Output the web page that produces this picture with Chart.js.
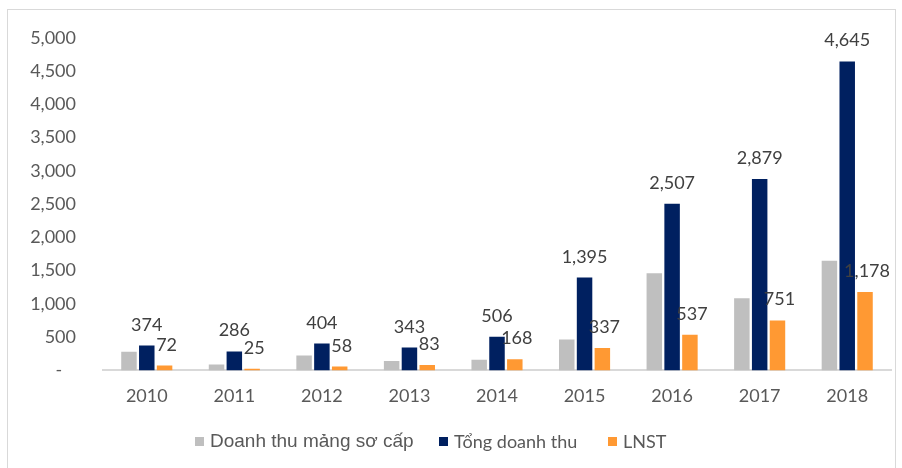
<!DOCTYPE html>
<html>
<head>
<meta charset="utf-8">
<script src="https://cdn.jsdelivr.net/npm/chart.js@4.4.1/dist/chart.umd.min.js"></script>
<style>
  body { margin: 0; background: #fff; }
  #wrap { position: relative; width: 902px; height: 468px; overflow: hidden; }
  #frame { position: absolute; left: 7px; top: 9px; width: 887px; height: 470px; border: 1px solid #d9d9d9; }
  #chart { position: absolute; left: 0; top: 0; }
  #legend { position: absolute; top: 429px; left: 0; width: 902px; height: 24px; }
  .item { position: absolute; top: 0; display: flex; align-items: center; height: 24px; color: #595959; }
  .box { width: 9px; height: 9px; margin-right: 6px; }
</style>
</head>
<body>
<div id="wrap">
  <div id="frame"></div>
  <canvas id="chart" width="902" height="468"></canvas>
  <div id="legend"></div>
</div>
<script>
const years = ["2010", "2011", "2012", "2013", "2014", "2015", "2016", "2017", "2018"];
const doanhThuSoCap = [280, 90, 225, 140, 160, 465, 1460, 1085, 1650];
const tongDoanhThu = [374, 286, 404, 343, 506, 1395, 2507, 2879, 4645];
const lnst = [72, 25, 58, 83, 168, 337, 537, 751, 1178];
const seriesNames = ["Doanh thu  mảng sơ cấp", "Tổng doanh thu", "LNST"];
const seriesColors = ["#bfbfbf", "#002060", "#ff9933"];
const yTicks = [0, 500, 1000, 1500, 2000, 2500, 3000, 3500, 4000, 4500, 5000];

const fmt = (v) => v.toLocaleString("en-US");

// value labels above the navy and orange bars
const valueLabels = {
    id: "valueLabels",
    afterDatasetsDraw(chart) {
        const ctx = chart.ctx;
        ctx.save();
        ctx.font = "18px Lato";
        ctx.fillStyle = "#404040";
        ctx.textAlign = "center";
        ctx.textBaseline = "alphabetic";
        [1, 2].forEach((di) => {
            const meta = chart.getDatasetMeta(di);
            meta.data.forEach((bar, i) => {
                ctx.fillText(fmt(chart.data.datasets[di].data[i]), bar.x + (di === 2 ? 2 : 0), bar.y - 15);
            });
        });
        ctx.restore();
    },
};

const createChart = () => {
    new Chart(document.getElementById("chart"), {
        type: "bar",
        plugins: [valueLabels],
        data: {
            labels: years,
            datasets: [doanhThuSoCap, tongDoanhThu, lnst].map((data, i) => ({
                label: seriesNames[i],
                data: data,
                backgroundColor: seriesColors[i],
                categoryPercentage: 0.61,
                barPercentage: 0.87,
            })),
        },
        options: {
            responsive: false,
            animation: false,
            layout: {
                padding: { left: 30, top: 29, right: 11, bottom: 46 },
            },
            plugins: {
                legend: { display: false },
                tooltip: { enabled: false },
            },
            scales: {
                x: {
                    grid: { display: false, drawTicks: false },
                    border: { color: "#d9d9d9", width: 2 },
                    ticks: {
                        color: "#595959",
                        font: { family: "Lato", size: 18 },
                        padding: 15,
                    },
                },
                y: {
                    min: 0,
                    max: 5000,
                    afterBuildTicks: (axis) => {
                        axis.ticks = yTicks.map((v) => ({ value: v }));
                    },
                    afterFit: (axis) => {
                        axis.width = 73;
                    },
                    grid: { display: false, drawTicks: false },
                    border: { display: false },
                    ticks: {
                        color: "#595959",
                        font: { family: "Lato", size: 18 },
                        padding: 27,
                        callback: (v) => (v === 0 ? "-   " : fmt(v)),
                    },
                },
            },
        },
    });
};

const createLegend = () => {
    const lefts = [195, 439, 608];
    const fonts = ["19px 'Liberation Sans'", "18px Lato", "18px Lato"];
    const legend = document.getElementById("legend");
    seriesNames.forEach((name, i) => {
        const item = document.createElement("div");
        item.className = "item";
        item.style.left = lefts[i] + "px";
        item.style.font = fonts[i];
        item.innerHTML = '<span class="box" style="background:' + seriesColors[i] + '"></span>' + name;
        legend.appendChild(item);
    });
};

(async function() {
    createChart();
    createLegend();
})();
</script>
</body>
</html>
